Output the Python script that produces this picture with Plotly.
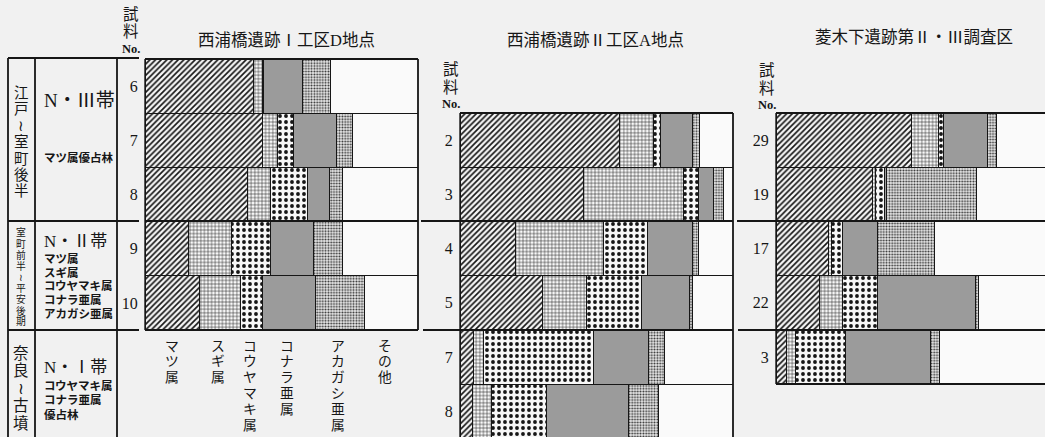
import plotly.graph_objects as go

W, H = 1045, 437

# ---------------- data (percent of pollen sum) ----------------
species = ["マツ属", "スギ属", "コウヤマキ属", "コナラ亜属", "アカガシ亜属", "その他"]

# 西浦橋遺跡 I工区 D地点
samples_D = ["6", "7", "8", "9", "10"]
matsu_D = [39.6, 42.9, 37.7, 15.8, 20.1]
sugi_D = [3.3, 5.5, 8.1, 15.8, 15.0]
kouya_D = [0.4, 5.9, 13.9, 14.3, 8.1]
konara_D = [14.3, 15.8, 7.7, 15.8, 19.4]
akagashi_D = [10.3, 5.9, 5.1, 10.6, 17.9]
other_D = [32.1, 24.0, 27.5, 27.7, 19.5]

# 西浦橋遺跡 II工区 A地点
samples_A = ["2", "3", "4", "5", "7", "8"]
matsu_A = [58.6, 45.1, 20.5, 30.4, 4.8, 4.4]
sugi_A = [12.1, 36.6, 32.2, 15.8, 3.7, 7.3]
kouya_A = [2.9, 5.5, 16.1, 20.1, 40.3, 20.1]
konara_A = [11.4, 5.5, 16.5, 17.9, 20.1, 30.0]
akagashi_A = [2.9, 3.7, 2.2, 1.1, 5.9, 11.0]
other_A = [12.1, 3.6, 12.5, 14.7, 25.2, 27.2]

# 菱木下遺跡 第II・III調査区
samples_H = ["29", "19", "17", "22", "3"]
matsu_H = [49.8, 35.5, 19.4, 16.1, 4.0]
sugi_H = [9.9, 1.1, 1.0, 8.1, 3.3]
kouya_H = [1.8, 3.3, 4.0, 12.8, 18.3]
konara_H = [16.1, 0.4, 12.8, 35.9, 31.1]
akagashi_H = [3.3, 33.3, 20.9, 1.1, 3.3]
other_H = [19.6, 26.4, 41.9, 26.0, 40.0]

titles = ["西浦橋遺跡Ⅰ工区D地点", "西浦橋遺跡Ⅱ工区A地点", "菱木下遺跡第Ⅱ・Ⅲ調査区"]

periods = ["江戸≀室町後半", "室町前半≀平安後期", "奈良≀古墳"]
zones = ["N・Ⅲ帯", "N・Ⅱ帯", "N・Ⅰ帯"]
zone_notes = [["マツ属優占林"],
              ["マツ属", "スギ属", "コウヤマキ属", "コナラ亜属", "アカガシ亜属"],
              ["コウヤマキ属", "コナラ亜属", "優占林"]]

# ---------------- styles ----------------
INK = "#161616"
styles = [
    dict(color="white", pattern=dict(shape="/", size=4, solidity=0.42, fgcolor=INK, bgcolor="#f7f7f7", fillmode="replace")),
    dict(color="white", pattern=dict(shape="+", size=3.6, solidity=0.26, fgcolor=INK, bgcolor="#f9f9f9", fillmode="replace")),
    dict(color="white", pattern=dict(shape=".", size=6, solidity=0.32, fgcolor=INK, bgcolor="#f7f7f7", fillmode="replace")),
    dict(color="#9b9b9b"),
    dict(color="white", pattern=dict(shape=".", size=2.8, solidity=0.38, fgcolor="#2a2a2a", bgcolor="#eeeeee", fillmode="replace")),
    dict(color="#fafafa"),
]

panels = [
    (samples_D, [matsu_D, sugi_D, kouya_D, konara_D, akagashi_D, other_D], "x", "y"),
    (samples_A, [matsu_A, sugi_A, kouya_A, konara_A, akagashi_A, other_A], "x2", "y2"),
    (samples_H, [matsu_H, sugi_H, kouya_H, konara_H, akagashi_H, other_H], "x3", "y3"),
]

fig = go.Figure()
for samples, series, xa, ya in panels:
    pos = list(range(len(samples)))
    for k, vals in enumerate(series):
        st = styles[k]
        marker = dict(color=st["color"], line=dict(color=INK, width=1))
        if "pattern" in st:
            marker["pattern"] = st["pattern"]
        fig.add_trace(go.Bar(
            y=pos, x=vals, orientation="h", width=1, name=species[k],
            marker=marker, xaxis=xa, yaxis=ya, showlegend=False, hoverinfo="skip"))


def px(x):
    return x / W


def py(y):
    return 1 - y / H


ROW = 54.2
tickfont = dict(family="Liberation Serif", size=16, color=INK)
common_y = dict(showgrid=False, zeroline=False, showline=False, ticks="outside", ticklen=3,
                tickcolor="rgba(0,0,0,0)", fixedrange=True, tickfont=tickfont)
common_x = dict(visible=False, fixedrange=True, showgrid=False, zeroline=False)

fig.update_layout(
    width=W, height=H, autosize=False,
    margin=dict(l=0, r=0, t=0, b=0),
    paper_bgcolor="#f1f1f1", plot_bgcolor="rgba(0,0,0,0)",
    barmode="stack", bargap=0,
    xaxis=dict(domain=[px(145), px(418)], range=[0, 100], anchor="y", **common_x),
    yaxis=dict(domain=[py(330), py(59)], range=[len(samples_D) - 0.5, -0.5], anchor="x",
               tickvals=list(range(len(samples_D))), ticktext=samples_D, **common_y),
    xaxis2=dict(domain=[px(460), px(733)], range=[0, 100], anchor="y2", **common_x),
    yaxis2=dict(domain=[0, py(113)], range=[-0.5 + (H - 113) / ROW, -0.5], anchor="x2",
                tickvals=list(range(len(samples_A))), ticktext=samples_A, **common_y),
    xaxis3=dict(domain=[px(776), 1.0], range=[0, 100 * (W - 776) / 273], anchor="y3", **common_x),
    yaxis3=dict(domain=[py(384), py(113)], range=[len(samples_H) - 0.5, -0.5], anchor="x3",
                tickvals=list(range(len(samples_H))), ticktext=samples_H, **common_y),
)

shapes = []


def hline(y, x0, x1, w=2.2):
    shapes.append(dict(type="line", xref="paper", yref="paper", x0=px(x0), x1=px(x1),
                       y0=py(y), y1=py(y), line=dict(color=INK, width=w)))


def vline(x, y0, y1, w=1.8):
    shapes.append(dict(type="line", xref="paper", yref="paper", x0=px(x), x1=px(x),
                       y0=py(y0), y1=py(y1), line=dict(color=INK, width=w)))


# left table frame
hline(58, 8, 139)
hline(221, 8, 139)
hline(330, 8, 139)
vline(8, 58, 437)
vline(35, 58, 437)
vline(117, 58, 437)
# panel 1 frame
hline(59, 145, 418)
hline(221, 145, 418)
hline(330, 145, 418)
vline(418, 59, 330)
vline(145, 59, 330, 1.4)
# panel 2 frame + gap markers
hline(113, 460, 733)
hline(221, 421, 733)
hline(330, 423, 733)
vline(733, 113, 437)
vline(460, 113, 437, 1.4)
# panel 3 frame + gap markers
hline(113, 776, 1045)
hline(221, 737, 1045)
hline(330, 738, 1045)
hline(384, 776, 1045)
vline(776, 113, 384, 1.4)

annotations = []
JP = "Liberation Serif, Noto Sans CJK JP"


def txt(s, x, y, size, family=JP, xanchor="center"):
    annotations.append(dict(text=s, x=px(x), y=py(y), xref="paper", yref="paper",
                            xanchor=xanchor, yanchor="middle", showarrow=False,
                            font=dict(family=family, size=size, color=INK)))


def vtext(s, x, y_first, step, size):
    """vertical (tategaki) text: one annotation per character"""
    for i, c in enumerate(s):
        txt(c, x, y_first + step * i, size)


def lines(items, x, y_first, step, size):
    for i, s in enumerate(items):
        txt("<b>" + s + "</b>", x, y_first + step * i, size, xanchor="left")


# titles
txt(titles[0], 286, 40, 16.5)
txt(titles[1], 595, 40, 16.5)
txt(titles[2], 914, 38, 16.5)

# 試料 No.
for x, y0 in [(131, 14), (451, 69), (767, 70)]:
    vtext("試料", x, y0, 18, 15.5)
    txt("<b>No.</b>", x, y0 + 35, 12.5, family="Liberation Serif")

# species labels under panel 1 (vertical)
lab_x = [172, 218, 250, 287, 338, 385]
for name, x in zip(species, lab_x):
    vtext(name, x, 346, 15.8, 13.8)

# left table: periods (vertical)
vtext(periods[0], 21, 93, 16.4, 14.5)
vtext(periods[1], 21, 233, 11.1, 9.8)
vtext(periods[2], 21, 353, 17.5, 15.5)

# zones
txt(zones[0], 42, 100, 19, xanchor="left")
lines(zone_notes[0], 42, 157, 15, 11.5)
txt(zones[1], 42, 241, 17, xanchor="left")
lines(zone_notes[1], 42, 259, 13.7, 11.5)
txt(zones[2], 42, 367, 17, xanchor="left")
lines(zone_notes[2], 42, 386, 14, 11.5)

fig.update_layout(shapes=shapes, annotations=annotations)

fig.write_html("out.html", config={"displayModeBar": False, "staticPlot": True},
               post_script="document.body.style.margin='0';document.body.style.overflow='hidden';")
